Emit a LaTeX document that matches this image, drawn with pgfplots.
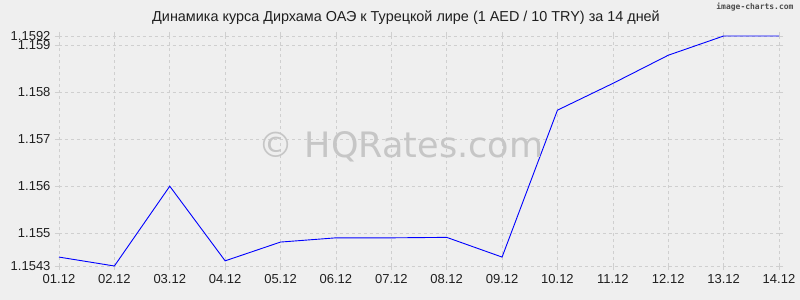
\documentclass[border=0pt]{standalone}
\usepackage{pgfplots}
\pgfplotsset{compat=1.18}
\usepackage{fontspec}
\setmainfont{Liberation Sans}
\newfontfamily\wmfont{DejaVu Sans}
\newfontfamily\monofont{DejaVu Sans Mono}
\definecolor{bg}{HTML}{EFEFEF}
\definecolor{gridc}{HTML}{CFCFCF}
\definecolor{wm}{HTML}{C6C6C6}
\begin{document}
\begin{tikzpicture}
\fill[bg] (-59bp,-34bp) rectangle (741bp,266bp);
\begin{axis}[
  scale only axis, width=720bp, height=230bp,
  at={(0,0)}, anchor=south west,
  xmin=0, xmax=13, ymin=1.1543, ymax=1.1592,
  axis line style={draw=none},
  xtick={0,...,13},
  xticklabels={01.12,02.12,03.12,04.12,05.12,06.12,07.12,08.12,09.12,10.12,11.12,12.12,13.12,14.12},
  ytick={1.1543,1.155,1.156,1.157,1.158,1.159,1.1592},
  yticklabels={1.1543,1.155,1.156,1.157,1.158,1.159,1.1592},
  grid=major,
  major grid style={gridc, dashed, line width=0.6bp},
  tick align=outside, major tick length=4bp,
  tick style={gridc, line width=0.6bp},
  /pgf/number format/assume math mode=true,
  ticklabel style={font=\fontsize{13bp}{15bp}\selectfont, text=black!88},
  yticklabel style={xshift=-1bp},
  xticklabel style={yshift=-1bp},
  clip=false,
]
\addplot[blue, line width=0.9bp] coordinates {
(0,1.15449) (1,1.1543) (2,1.1560) (3,1.15441) (4,1.15481) (5,1.15490) (6,1.15490)
(7,1.15491) (8,1.15449) (9,1.15762) (10,1.15819) (11,1.15879) (12,1.1592) (13,1.1592)
};
\end{axis}
\node[text=wm, font=\wmfont\fontsize{35bp}{40bp}\selectfont] at (342bp,119bp) {© HQRates.com};
\node[font=\fontsize{14.4bp}{16bp}\selectfont, text=black!88] at (347bp,248bp) {Динамика курса Дирхама ОАЭ к Турецкой лире (1 AED / 10 TRY) за 14 дней};
\node[anchor=east, font=\monofont\bfseries\fontsize{8bp}{9bp}\selectfont, text=black!70] at (738bp,259bp) {image-charts.com};
\pgfresetboundingbox
\path[use as bounding box] (-59bp,-34bp) rectangle (741bp,266bp);
\end{tikzpicture}
\end{document}
